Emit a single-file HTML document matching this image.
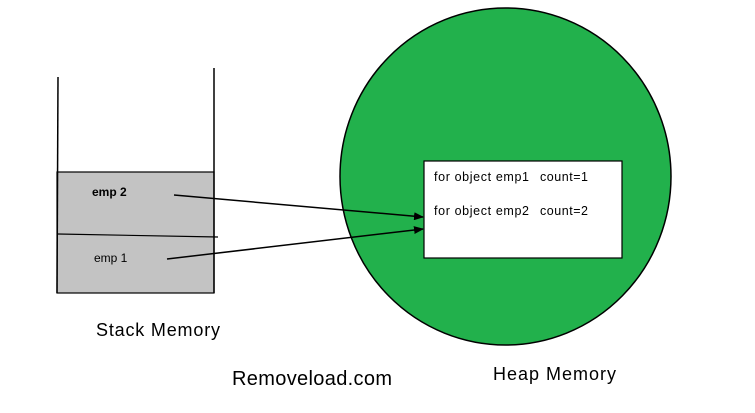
<!DOCTYPE html>
<html><head><style>html,body{margin:0;padding:0;background:#fff;}svg{display:block;}</style></head>
<body>
<svg width="755" height="413" viewBox="0 0 755 413" xmlns="http://www.w3.org/2000/svg" font-family="Liberation Sans, sans-serif">
<defs><marker id="a" markerWidth="10" markerHeight="8" refX="9" refY="4" orient="auto" markerUnits="userSpaceOnUse"><path d="M0,0 L10,4 L0,8 z" fill="#000"/></marker></defs>
<ellipse cx="505.5" cy="176.5" rx="165.5" ry="168.5" fill="#22b14c" stroke="#000" stroke-width="1.5"/>
<rect x="424" y="161" width="198" height="97" fill="#fff" stroke="#000" stroke-width="1.2"/>
<text x="434" y="181" font-size="12.5" textLength="95" fill="#000">for object emp1</text>
<text x="540" y="181" font-size="12.5" textLength="48" fill="#000">count=1</text>
<text x="434" y="215" font-size="12.5" textLength="95" fill="#000">for object emp2</text>
<text x="540" y="215" font-size="12.5" textLength="48" fill="#000">count=2</text>
<rect x="57" y="172" width="157" height="121" fill="#c3c3c3" stroke="#000" stroke-width="1.2"/>
<line x1="58" y1="77" x2="57" y2="293" stroke="#000" stroke-width="1.5"/>
<line x1="214" y1="68" x2="214" y2="293" stroke="#000" stroke-width="1.5"/>
<line x1="58" y1="234" x2="218" y2="237" stroke="#000" stroke-width="1.2"/>
<text x="92" y="196" font-size="12" font-weight="bold" fill="#000">emp 2</text>
<text x="94" y="262" font-size="12" fill="#000">emp 1</text>
<line x1="174" y1="195" x2="423" y2="217" stroke="#000" stroke-width="1.5" marker-end="url(#a)"/>
<line x1="167" y1="259" x2="423" y2="229" stroke="#000" stroke-width="1.5" marker-end="url(#a)"/>
<text x="96" y="336" font-size="18" textLength="124" fill="#000">Stack Memory</text>
<text x="232" y="385" font-size="20" textLength="160" fill="#000">Removeload.com</text>
<text x="493" y="380" font-size="18" textLength="123" fill="#000">Heap Memory</text>
</svg>
</body></html>
